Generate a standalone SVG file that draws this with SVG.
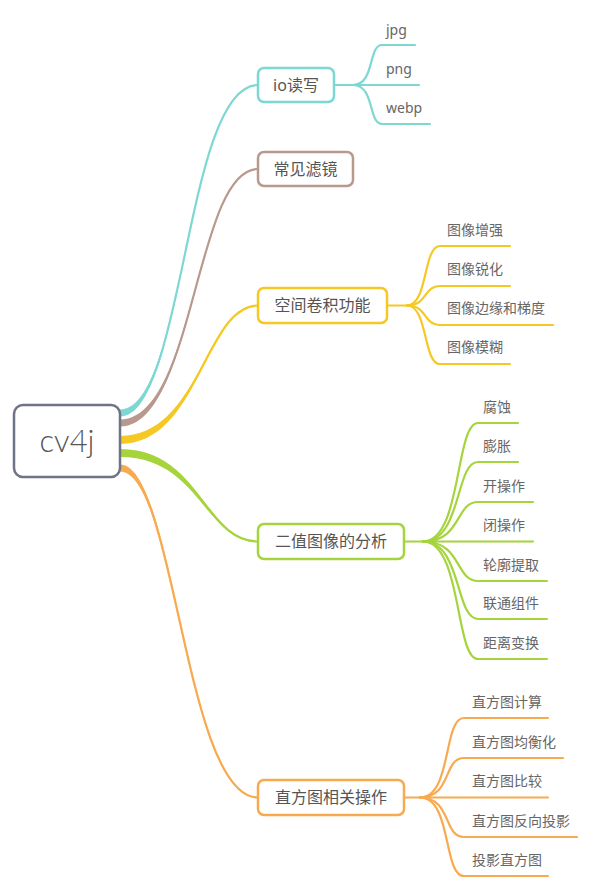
<svg xmlns="http://www.w3.org/2000/svg" width="593" height="886" viewBox="0 0 593 886">
<style>
text{font-family:"Noto Sans","Noto Sans CJK SC",sans-serif;}
.node{fill:#fff;stroke-width:2.5;}
.nt{font-size:16px;fill:#555;text-anchor:middle;}
.lt{font-size:14px;fill:#666;}
.ln{fill:none;stroke-width:2.2;stroke-linecap:round;}
.cy{stroke:#7dd8d3;} .br{stroke:#b8998e;} .ye{stroke:#f5c824;} .gr{stroke:#a5d43c;} .or{stroke:#f8aa4e;}
</style>
<rect width="593" height="886" fill="#fff"/>
<g id="connectors">
  <!-- main tapered branches -->
  <path d="M120,409.5 C185,409.5 185.5,84.5 258,84.5 L258,85.5 C184.5,85.5 185,416.5 120,416.5 Z" fill="#7dd8d3"/>
  <path d="M120,413 C185,413 185,85 258,85" class="ln cy" stroke-width="2.4"/>
  <path d="M120,419.5 C195,419.5 195.5,168.5 258,168.5 L258,169.5 C194.5,169.5 195,426.5 120,426.5 Z" fill="#b8998e"/>
  <path d="M120,423 C195,423 195,169 258,169" class="ln br" stroke-width="2.4"/>
  <path d="M120,436 C200,436 205.5,305 258,305 L258,306 C204.5,306 200,444 120,444 Z" fill="#f5c824"/>
  <path d="M120,440 C200,440 205,305.5 258,305.5" class="ln ye" stroke-width="2.4"/>
  <path d="M120,449 C200,449 205.5,541 258,541 L258,542 C204.5,542 200,457 120,457 Z" fill="#a5d43c"/>
  <path d="M120,453 C200,453 205,541.5 258,541.5" class="ln gr" stroke-width="2.4"/>
  <path d="M120,464.5 C175,464.5 185.5,797 258,797 L258,798 C184.5,798 175,471.5 120,471.5 Z" fill="#f8aa4e"/>
  <path d="M120,468 C175,468 185,797.5 258,797.5" class="ln or" stroke-width="2.4"/>

  <!-- io -->
  <path d="M334,85 L353,85" class="ln cy"/>
  <path d="M353,85 C375,85 368,45 382,45 L415,45" class="ln cy"/>
  <path d="M353,85 L419,85" class="ln cy"/>
  <path d="M353,85 C375,85 368,124 382,124 L430,124" class="ln cy"/>

  <!-- spatial -->
  <path d="M387,305.5 L407,305.5" class="ln ye"/>
  <path d="M407,305.5 C428,305.5 423,246 440,246 L510,246" class="ln ye"/>
  <path d="M407,305.5 C428,305.5 423,286 440,286 L510,286" class="ln ye"/>
  <path d="M407,305.5 C428,305.5 423,325 440,325 L553,325" class="ln ye"/>
  <path d="M407,305.5 C428,305.5 423,364 440,364 L510,364" class="ln ye"/>

  <!-- binary -->
  <path d="M404,541.5 L423,541.5" class="ln gr"/>
  <path d="M423,541.5 C462,541.5 455,423 478,423 L518,423" class="ln gr"/>
  <path d="M423,541.5 C462,541.5 455,462 478,462 L518,462" class="ln gr"/>
  <path d="M423,541.5 C462,541.5 455,502 478,502 L533,502" class="ln gr"/>
  <path d="M423,541.5 L533,541.5" class="ln gr"/>
  <path d="M423,541.5 C462,541.5 455,581 478,581 L547,581" class="ln gr"/>
  <path d="M423,541.5 C462,541.5 455,619 478,619 L547,619" class="ln gr"/>
  <path d="M423,541.5 C462,541.5 455,659 478,659 L547,659" class="ln gr"/>

  <!-- histogram -->
  <path d="M404,797.5 L420,797.5" class="ln or"/>
  <path d="M420,797.5 C452,797.5 443,718 464,718 L548,718" class="ln or"/>
  <path d="M420,797.5 C452,797.5 443,758 464,758 L563,758" class="ln or"/>
  <path d="M420,797.5 L548,797.5" class="ln or"/>
  <path d="M420,797.5 C452,797.5 443,837 464,837 L577,837" class="ln or"/>
  <path d="M420,797.5 C452,797.5 443,876 464,876 L548,876" class="ln or"/>
</g>

<g id="root">
  <rect x="14" y="405" width="106" height="72" rx="9" class="node" stroke="#6f7386"/>
  <text x="67" y="452" font-size="31" fill="#555" text-anchor="middle" style="font-family:Lato,'Noto Sans',sans-serif;font-weight:300">cv4j</text>
</g>

<g id="n-io">
  <rect x="258" y="68" width="76" height="34" rx="6" class="node cy"/>
  <text x="296" y="90.5" class="nt">io读写</text>
</g>
<g id="n-jpg"><text x="386" y="35" class="lt">jpg</text></g>
<g id="n-png"><text x="386" y="74" class="lt">png</text></g>
<g id="n-webp"><text x="386" y="113" class="lt">webp</text></g>

<g id="n-filter">
  <rect x="258" y="152" width="95" height="34" rx="6" class="node br"/>
  <text x="305.5" y="174.5" class="nt">常见滤镜</text>
</g>

<g id="n-spatial">
  <rect x="258" y="288" width="129" height="35" rx="6" class="node ye"/>
  <text x="322.5" y="311" class="nt">空间卷积功能</text>
</g>
<g id="n-s1"><text x="447" y="235" class="lt">图像增强</text></g>
<g id="n-s2"><text x="447" y="274" class="lt">图像锐化</text></g>
<g id="n-s3"><text x="447" y="313" class="lt">图像边缘和梯度</text></g>
<g id="n-s4"><text x="447" y="352" class="lt">图像模糊</text></g>

<g id="n-binary">
  <rect x="258" y="524" width="146" height="35" rx="6" class="node gr"/>
  <text x="331" y="547" class="nt">二值图像的分析</text>
</g>
<g id="n-b1"><text x="483" y="412" class="lt">腐蚀</text></g>
<g id="n-b2"><text x="483" y="451" class="lt">膨胀</text></g>
<g id="n-b3"><text x="483" y="491" class="lt">开操作</text></g>
<g id="n-b4"><text x="483" y="530" class="lt">闭操作</text></g>
<g id="n-b5"><text x="483" y="570" class="lt">轮廓提取</text></g>
<g id="n-b6"><text x="483" y="608" class="lt">联通组件</text></g>
<g id="n-b7"><text x="483" y="648" class="lt">距离变换</text></g>

<g id="n-hist">
  <rect x="258" y="780" width="146" height="35" rx="6" class="node or"/>
  <text x="331" y="803" class="nt">直方图相关操作</text>
</g>
<g id="n-h1"><text x="472" y="707" class="lt">直方图计算</text></g>
<g id="n-h2"><text x="472" y="747" class="lt">直方图均衡化</text></g>
<g id="n-h3"><text x="472" y="786" class="lt">直方图比较</text></g>
<g id="n-h4"><text x="472" y="826" class="lt">直方图反向投影</text></g>
<g id="n-h5"><text x="472" y="865" class="lt">投影直方图</text></g>
</svg>
